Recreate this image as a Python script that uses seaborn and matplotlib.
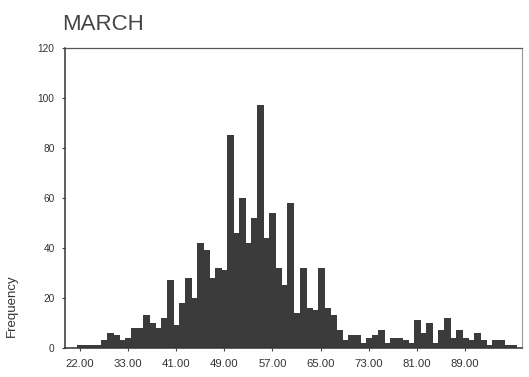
import numpy as np
import pandas as pd
import matplotlib
matplotlib.use("Agg")
import matplotlib.pyplot as plt
import seaborn as sns

# Frequency histogram for March: one count per bin, left to right
title = "MARCH"
y_label = "Frequency"
counts = [0, 0, 1, 1, 1, 1, 3, 6, 5, 3,
          4, 8, 8, 13, 10, 8, 12, 27, 9, 18,
          28, 20, 42, 39, 28, 32, 31, 85, 46, 60,
          42, 52, 97, 44, 54, 32, 25, 58, 14, 32,
          16, 15, 32, 16, 13, 7, 3, 5, 5, 2,
          4, 5, 7, 2, 4, 4, 3, 2, 11, 6,
          10, 2, 7, 12, 4, 7, 4, 3, 6, 3,
          1, 3, 3, 1, 1, 0]
tick_labels = ["22.00", "33.00", "41.00", "49.00", "57.00",
               "65.00", "73.00", "81.00", "89.00"]
y_ticks = [0, 20, 40, 60, 80, 100, 120]
first_labelled_bin = 2
bins_per_label = 8

sns.set_theme(style="white")
plt.rcParams["font.family"] = ["Liberation Sans", "DejaVu Sans"]

W, H = 529, 377
fig = plt.figure(figsize=(W / 100, H / 100), dpi=100)
fig.patch.set_facecolor("white")
ax = fig.add_axes([65 / W, 1 - 347.5 / H, 457 / W, 299.5 / H])

bar_color = "#3b3b3b"
df = pd.DataFrame({"bin": np.arange(len(counts)), "count": counts})
sns.barplot(data=df, x="bin", y="count", ax=ax, color=bar_color,
            saturation=1, width=1.0, errorbar=None,
            edgecolor=bar_color, linewidth=0.6)
for patch in ax.patches:
    patch.set_antialiased(False)

ax.set_xlim(-0.5, len(counts) - 0.5)
ax.set_ylim(0, 120)

tick_pos = [first_labelled_bin + bins_per_label * i for i in range(len(tick_labels))]
ax.set_xticks(tick_pos)
ax.set_xticklabels(tick_labels, fontsize=8.2, color="#333333")
ax.set_yticks(y_ticks)
ax.set_yticklabels([str(v) for v in y_ticks], fontsize=7.3, color="#333333")
ax.tick_params(axis="x", length=2.5, width=0.8, pad=6, color="#444444", direction="out", bottom=True)
ax.tick_params(axis="y", length=2.5, width=0.8, pad=5, color="#444444", direction="out", left=True)

ax.set_xlabel("")
ax.set_ylabel(y_label, fontsize=9.5, color="#333333")
ax.yaxis.set_label_coords(-0.103, 0.14)

for side in ("left", "bottom"):
    ax.spines[side].set_color("#333333")
    ax.spines[side].set_linewidth(1.1)
ax.spines["top"].set_color("#555555")
ax.spines["top"].set_linewidth(0.9)
ax.spines["right"].set_color("#9a9a9a")
ax.spines["right"].set_linewidth(0.8)
for s in ax.spines.values():
    s.set_visible(True)

fig.text(62 / W, 1 - 24 / H, title, fontsize=16, color="#444444",
         ha="left", va="center")

fig.savefig("out.png", dpi=100)
